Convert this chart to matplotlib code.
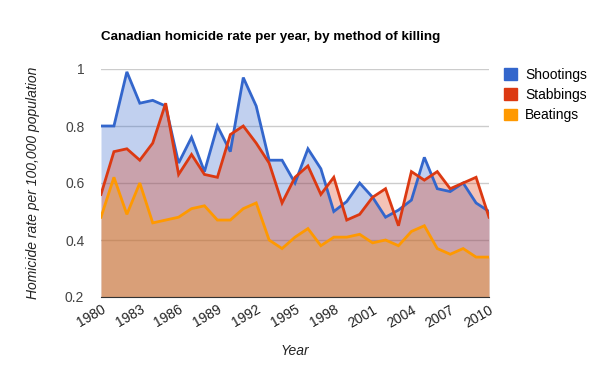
import numpy as np
import matplotlib.pyplot as plt
from matplotlib.patches import Patch

plt.rcParams['font.family'] = ['Liberation Sans', 'DejaVu Sans']

years = list(range(1980, 2011))
shootings = [0.80, 0.80, 0.99, 0.88, 0.89, 0.87, 0.67, 0.76, 0.64, 0.80, 0.71,
             0.97, 0.87, 0.68, 0.68, 0.60, 0.72, 0.65, 0.50, 0.535, 0.60,
             0.55, 0.48, 0.505, 0.54, 0.69, 0.58, 0.57, 0.60, 0.53, 0.50]
stabbings = [0.56, 0.71, 0.72, 0.68, 0.74, 0.88, 0.63, 0.70, 0.63, 0.62, 0.77,
             0.80, 0.74, 0.67, 0.53, 0.62, 0.66, 0.56, 0.62, 0.47, 0.49,
             0.55, 0.58, 0.45, 0.64, 0.61, 0.64, 0.58, 0.60, 0.62, 0.48]
beatings = [0.48, 0.62, 0.49, 0.60, 0.46, 0.47, 0.48, 0.51, 0.52, 0.47, 0.47,
            0.51, 0.53, 0.40, 0.37, 0.41, 0.44, 0.38, 0.41, 0.41, 0.42,
            0.39, 0.40, 0.38, 0.43, 0.45, 0.37, 0.35, 0.37, 0.34, 0.34]
series = [('Shootings', shootings, '#3366cc'),
          ('Stabbings', stabbings, '#dc3912'),
          ('Beatings', beatings, '#ff9900')]
xticks = list(range(1980, 2011, 3))
yticks = [0.2, 0.4, 0.6, 0.8, 1.0]

fig = plt.figure(figsize=(6.07, 3.66), dpi=100)
ax = fig.add_axes([101 / 607, 1 - 297 / 366, 388 / 607, 228 / 366])

for name, vals, col in series:
    ax.fill_between(years, vals, 0.2, color=col, alpha=0.3, linewidth=0, zorder=2)
for name, vals, col in series:
    ax.plot(years, vals, color=col, linewidth=2, zorder=3, solid_joinstyle='miter')

ax.set_xlim(1980, 2010)
ax.set_ylim(0.2, 1.0)
ax.set_yticks(yticks)
ax.set_yticklabels(['0.2', '0.4', '0.6', '0.8', '1'])
ax.set_xticks(xticks)
ax.set_xticklabels([str(y) for y in xticks], rotation=30, ha='right',
                   rotation_mode='anchor')
ax.tick_params(length=0, labelsize=10, colors='#222222')
ax.tick_params(axis='y', pad=12)
ax.tick_params(axis='x', pad=4)
for lab in ax.get_yticklabels():
    lab.set_color('#444444')

ax.grid(axis='y', color='#cccccc', linewidth=1, zorder=1)
ax.grid(axis='x', visible=False)
for s in ['top', 'right', 'left']:
    ax.spines[s].set_visible(False)
ax.spines['bottom'].set_color('#333333')
ax.spines['bottom'].set_zorder(4)

ax.set_title('Canadian homicide rate per year, by method of killing',
             loc='left', fontsize=9.6, fontweight='bold', pad=21, color='#000000')
ax.set_xlabel('Year', fontstyle='italic', fontsize=10, color='#222222', labelpad=10)
ax.set_ylabel('Homicide rate per 100,000 population', fontstyle='italic',
              fontsize=10, color='#222222', labelpad=18)

handles = [Patch(facecolor=c, edgecolor=c) for _, _, c in series]
ax.legend(handles, [n for n, _, _ in series], loc='upper left',
          bbox_to_anchor=(1.025, 1.03), frameon=False, fontsize=10,
          handlelength=0.9, handleheight=0.9, handletextpad=0.6,
          labelspacing=0.45, borderaxespad=0)

fig.savefig('out.png', dpi=100)
